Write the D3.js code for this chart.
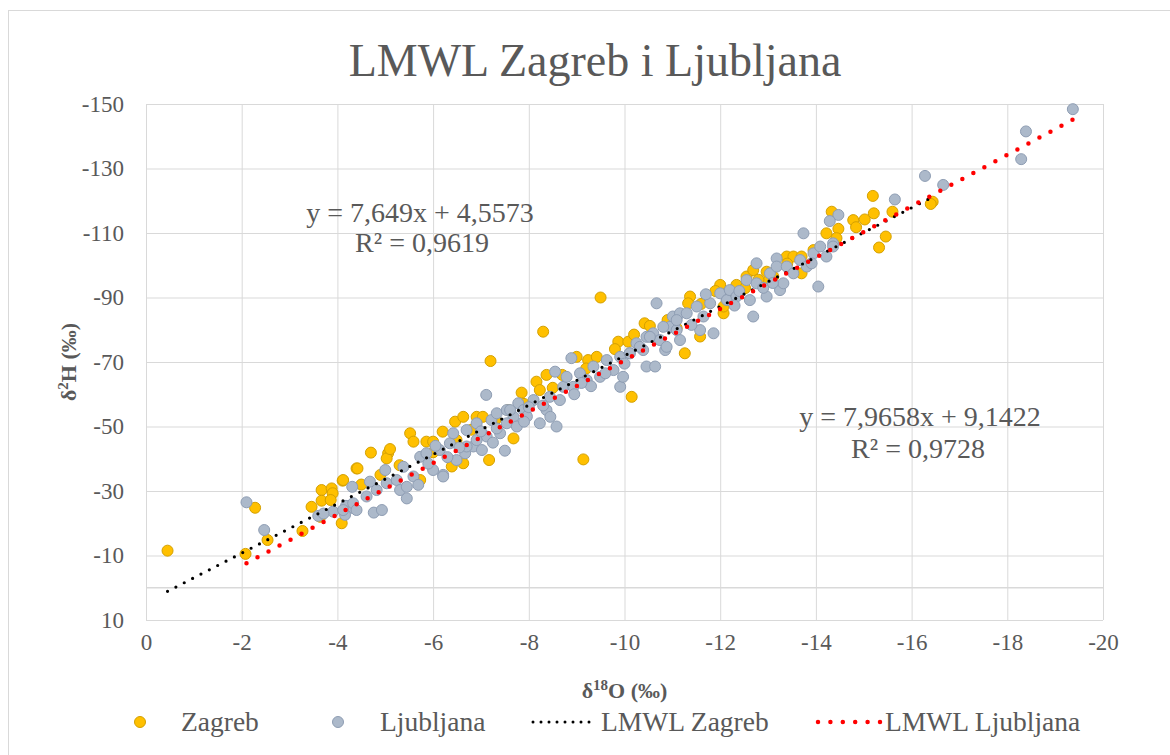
<!DOCTYPE html>
<html lang="en">
<head>
    <meta charset="UTF-8">
    <title>LMWL Zagreb i Ljubljana</title>
    <script src="https://cdn.jsdelivr.net/npm/d3@7"></script>
    <style>
        body { margin: 0; background: #fff; }
        text { font-family: "Liberation Serif", "Times New Roman", serif; fill: #595959; }
    </style>
</head>
<body>
<div id="mainContent"></div>
<script>
    // [δ18O, δ2H] pairs
    const zagreb = [
        [-0.45, -11.5], [-2.08, -10.5], [-2.28, -24.8], [-2.54, -14.8], [-3.27, -17.6],
        [-3.46, -25.1], [-3.64, -22.0], [-3.67, -30.3], [-3.88, -30.8], [-3.9, -29.3],
        [-3.67, -27.0], [-3.86, -27.2], [-4.09, -20.0], [-4.11, -33.2], [-4.4, -37.0],
        [-4.12, -33.4], [-4.42, -37.0], [-4.7, -41.9], [-5.06, -41.7], [-5.03, -40.1],
        [-5.52, -47.9], [-5.59, -45.3], [-5.73, -33.4], [-5.86, -45.3], [-6.0, -45.3],
        [-6.2, -48.4], [-6.46, -51.5], [-6.63, -53.0], [-6.91, -53.0], [-7.04, -53.0],
        [-6.39, -37.6], [-6.63, -38.6], [-7.17, -39.6], [-7.68, -46.3], [-7.57, -55.1],
        [-6.49, -45.8], [-7.2, -70.3], [-8.3, -79.4], [-9.5, -90.0], [-10.15, -59.2],
        [-9.14, -39.8], [-10.42, -82.0], [-10.53, -81.2], [-9.87, -76.3], [-10.08, -76.3],
        [-9.0, -71.6], [-9.24, -70.6], [-9.42, -71.6], [-8.37, -66.0], [-8.16, -63.9],
        [-8.23, -61.3], [-7.85, -60.5], [-11.26, -72.7], [-11.37, -90.3], [-11.33, -88.2],
        [-11.02, -82.5], [-11.09, -80.5], [-11.58, -77.9], [-12.07, -85.1], [-12.34, -93.9],
        [-12.55, -96.5], [-12.69, -98.5], [-12.52, -92.9], [-12.97, -98.0], [-13.11, -96.5],
        [-13.39, -102.7], [-13.53, -102.7], [-13.7, -102.7], [-13.7, -97.5], [-14.22, -109.9],
        [-12.0, -93.9], [-12.07, -87.2], [-15.19, -121.5], [-14.33, -116.6], [-14.78, -114.0],
        [-15.02, -114.2], [-15.21, -116.1], [-14.84, -111.8], [-14.47, -111.3], [-15.46, -108.9],
        [-15.32, -105.5], [-15.6, -116.6], [-16.44, -119.7], [-16.4, -119.0], [-14.43, -108.4],
        [-13.95, -104.7], [-13.4, -100.5], [-13.0, -95.0],
        [-4.5, -32.0], [-4.9, -35.0], [-5.3, -38.0], [-6.0, -42.0], [-7.3, -52.0],
        [-7.9, -57.0], [-8.5, -62.0], [-9.2, -68.0], [-9.8, -74.0], [-10.9, -83.0],
        [-11.6, -88.0], [-12.2, -91.0], [-5.1, -43.0], [-6.8, -49.0], [-8.7, -66.0],
        [-10.2, -78.5], [-11.9, -92.0], [-12.8, -95.5]
    ];

    const ljubljana = [
        [-2.1, -26.5], [-2.47, -17.9], [-4.31, -31.3], [-3.6, -22.3], [-3.91, -23.6],
        [-4.18, -25.4], [-4.33, -24.7], [-4.16, -22.6], [-7.11, -59.8], [-7.5, -42.5],
        [-4.76, -23.3], [-4.93, -24.1], [-5.45, -27.7], [-6.21, -35.0],
        [-3.71, -23.0], [-4.12, -24.1], [-4.33, -26.2], [-4.4, -24.1], [-4.61, -28.3],
        [-4.68, -32.9], [-4.82, -30.3], [-5.0, -36.5], [-5.03, -32.4], [-5.24, -33.4],
        [-5.31, -30.3], [-5.45, -31.3], [-5.38, -37.5], [-5.59, -34.5], [-5.69, -31.9],
        [-5.73, -40.6], [-5.86, -41.7], [-6.0, -36.5], [-6.14, -42.7], [-6.21, -34.5],
        [-6.35, -44.8], [-6.42, -47.9], [-6.49, -39.6], [-6.67, -41.7], [-6.7, -48.9],
        [-6.84, -43.8], [-6.91, -51.0], [-7.02, -42.7], [-7.12, -46.9], [-7.22, -52.0],
        [-7.33, -54.1], [-7.4, -47.9], [-7.54, -55.1], [-7.68, -53.0], [-7.78, -57.2],
        [-8.58, -50.0], [-8.89, -71.2], [-8.55, -67.0], [-10.46, -68.6], [-10.64, -68.6],
        [-9.91, -62.3], [-11.01, -84.1], [-10.67, -88.2],
        [-6.7, -43.8], [-6.91, -45.8], [-7.33, -49.4], [-7.54, -51.0], [-7.75, -50.0],
        [-7.61, -55.1], [-7.89, -55.1], [-7.96, -53.1], [-8.1, -58.2], [-8.23, -51.0],
        [-8.37, -55.1], [-8.44, -59.2], [-8.65, -58.2], [-8.72, -62.3], [-8.79, -65.4],
        [-8.93, -62.3], [-9.07, -66.5], [-9.21, -64.4], [-9.35, -68.6], [-9.49, -65.4],
        [-9.63, -70.6], [-9.77, -67.5], [-9.91, -71.6], [-9.97, -65.4], [-10.11, -72.7],
        [-10.25, -75.8], [-10.39, -73.7], [-10.46, -77.8], [-10.6, -78.9], [-10.74, -76.8],
        [-10.85, -73.7], [-10.95, -80.9], [-11.09, -79.9], [-11.16, -85.1],
        [-12.69, -84.1], [-14.05, -93.4], [-13.74, -109.9], [-12.76, -100.6], [-13.18, -102.1],
        [-10.11, -72.7], [-10.32, -74.7], [-10.53, -77.8], [-10.88, -74.7], [-10.81, -80.9],
        [-11.09, -83.0], [-11.16, -76.8], [-11.3, -85.1], [-11.51, -87.2], [-11.58, -79.9],
        [-11.65, -84.1], [-11.79, -88.2], [-11.86, -78.9], [-12.0, -91.3], [-12.14, -89.2],
        [-12.2, -92.3], [-12.34, -90.3], [-12.55, -95.4], [-12.62, -89.2], [-12.76, -94.4],
        [-12.97, -90.3], [-13.04, -97.5], [-13.18, -99.6], [-13.25, -92.3], [-13.39, -99.6],
        [-13.53, -97.5], [-13.67, -101.6], [-13.81, -99.6], [-13.95, -103.7], [-14.09, -105.8],
        [-14.22, -102.7], [-14.36, -106.8],
        [-16.28, -127.7], [-16.66, -124.9], [-15.65, -120.4], [-14.47, -115.6], [-14.29, -113.7],
        [-14.36, -105.8], [-13.91, -100.6], [-13.32, -94.4],
        [-19.37, -148.4], [-18.39, -141.5], [-18.29, -132.9],
        [-5.9, -38.5], [-6.3, -40.5], [-6.05, -44.0], [-7.25, -45.0], [-7.9, -51.5],
        [-8.3, -56.5], [-8.95, -60.0], [-9.3, -62.5], [-9.6, -66.5], [-10.0, -69.5],
        [-11.4, -81.5], [-12.3, -87.5], [-12.9, -93.0], [-11.7, -91.0],
        [-6.55, -43.5], [-7.0, -48.5], [-8.0, -56.0], [-8.45, -53.0], [-9.1, -63.5],
        [-12.4, -92.0], [-13.1, -94.5]
    ];

    // trendlines: slope, intercept
    const trendZagreb = [7.649, 4.5573];
    const trendLjubljana = [7.9658, 9.1422];

    const xTicks = [0, -2, -4, -6, -8, -10, -12, -14, -16, -18, -20];
    const yTicks = [10, -10, -30, -50, -70, -90, -110, -130, -150];

    const W = 1170, H = 755;
    const plot = {left: 146, right: 1103, top: 104, bottom: 620};
    const serif = "Liberation Serif";

    let svg = d3.select("#mainContent").append("svg")
        .attr("width", W).attr("height", H);

    // chart border
    svg.append("rect")
        .attr("x", 8.5).attr("y", 10.5).attr("width", 1175).attr("height", 760)
        .attr("fill", "none").attr("stroke", "#d9d9d9");

    let xScale = d3.scaleLinear().domain([0, -20]).range([plot.left, plot.right]);
    let yScale = d3.scaleLinear().domain([10, -150]).range([plot.bottom, plot.top]);

    // gridlines + tick labels
    const yAxis = d3.axisLeft(yScale).tickValues(yTicks)
        .tickSize(-(plot.right - plot.left)).tickPadding(22)
        .tickFormat(d => String(d));
    let yg = svg.append("g").attr("transform", "translate(" + plot.left + ",0)").call(yAxis);
    yg.select(".domain").remove();
    yg.selectAll(".tick line").attr("stroke", "#d9d9d9");
    yg.selectAll(".tick text").attr("font-size", 23).attr("font-family", serif).attr("fill", "#595959");

    const xAxis = d3.axisBottom(xScale).tickValues(xTicks)
        .tickSize(-(plot.bottom - plot.top)).tickPadding(14)
        .tickFormat(d => String(d));
    let xg = svg.append("g").attr("transform", "translate(0," + plot.bottom + ")").call(xAxis);
    xg.select(".domain").remove();
    xg.selectAll(".tick line").attr("stroke", "#d9d9d9");
    xg.selectAll(".tick text").attr("font-size", 23).attr("font-family", serif).attr("fill", "#595959");

    // horizontal axis line crosses at 0
    svg.append("line")
        .attr("x1", plot.left).attr("x2", plot.right)
        .attr("y1", yScale(0)).attr("y2", yScale(0))
        .attr("stroke", "#d9d9d9").attr("stroke-width", 1.3);

    // points
    function drawPoints(data, fill, stroke) {
        svg.append("g").selectAll("circle").data(data).enter()
            .append("circle")
            .attr("cx", d => xScale(d[0]))
            .attr("cy", d => yScale(d[1]))
            .attr("r", 5.5)
            .attr("fill", fill)
            .attr("stroke", stroke)
            .attr("stroke-width", 1);
    }
    drawPoints(zagreb, "#ffc000", "#d4a000");
    drawPoints(ljubljana, "#acb9ca", "#8e9db3");

    // trendlines
    function drawTrend(data, coef, color, width, dash) {
        const ext = d3.extent(data, d => d[0]);
        const line = d3.line().x(d => xScale(d)).y(d => yScale(coef[0] * d + coef[1]));
        svg.append("path")
            .attr("d", line([ext[1], ext[0]]))
            .attr("fill", "none")
            .attr("stroke", color)
            .attr("stroke-width", width)
            .attr("stroke-linecap", "round")
            .attr("stroke-dasharray", dash);
    }
    drawTrend(zagreb, trendZagreb, "#000", 3.2, "0 9.4");
    drawTrend(ljubljana, trendLjubljana, "#ff0000", 4.5, "0 12.5");

    // title
    svg.append("text").text("LMWL Zagreb i Ljubljana")
        .attr("x", 595).attr("y", 76)
        .attr("text-anchor", "middle")
        .attr("font-family", serif)
        .attr("font-size", 46);

    // trend equations
    const eq = svg.append("g").attr("font-size", 28).attr("text-anchor", "middle");
    eq.append("text").attr("x", 420).attr("y", 222).text("y = 7,649x + 4,5573");
    eq.append("text").attr("x", 422).attr("y", 252).text("R² = 0,9619");
    eq.append("text").attr("x", 920).attr("y", 426).text("y = 7,9658x + 9,1422");
    eq.append("text").attr("x", 918).attr("y", 458).text("R² = 0,9728");

    // axis titles
    let xt = svg.append("text")
        .attr("x", (plot.left + plot.right) / 2).attr("y", 698)
        .attr("text-anchor", "middle").attr("font-size", 22).attr("font-weight", "bold");
    xt.append("tspan").text("δ");
    xt.append("tspan").text("18").attr("font-size", 15).attr("dy", -8);
    xt.append("tspan").text("O (‰)").attr("dy", 8);

    let yt = svg.append("text")
        .attr("transform", "translate(76," + (plot.top + plot.bottom) / 2 + ") rotate(-90)")
        .attr("text-anchor", "middle").attr("font-size", 22).attr("font-weight", "bold");
    yt.append("tspan").text("δ");
    yt.append("tspan").text("2").attr("font-size", 15).attr("dy", -8);
    yt.append("tspan").text("H (‰)").attr("dy", 8);

    // legend
    const lg = svg.append("g").attr("font-size", 27.5);
    lg.append("circle").attr("cx", 140).attr("cy", 722).attr("r", 5.5)
        .attr("fill", "#ffc000").attr("stroke", "#d4a000");
    lg.append("text").attr("x", 181).attr("y", 731).text("Zagreb");
    lg.append("circle").attr("cx", 338).attr("cy", 722).attr("r", 5.5)
        .attr("fill", "#acb9ca").attr("stroke", "#8e9db3");
    lg.append("text").attr("x", 380).attr("y", 731).text("Ljubljana");
    lg.append("line").attr("x1", 533).attr("x2", 597).attr("y1", 722).attr("y2", 722)
        .attr("stroke", "#000").attr("stroke-width", 3)
        .attr("stroke-linecap", "round").attr("stroke-dasharray", "0 8");
    lg.append("text").attr("x", 601).attr("y", 731).text("LMWL Zagreb");
    lg.append("line").attr("x1", 818).attr("x2", 880).attr("y1", 722).attr("y2", 722)
        .attr("stroke", "#ff0000").attr("stroke-width", 4.5)
        .attr("stroke-linecap", "round").attr("stroke-dasharray", "0 12.4");
    lg.append("text").attr("x", 885).attr("y", 731).text("LMWL Ljubljana");
</script>
</body>
</html>
